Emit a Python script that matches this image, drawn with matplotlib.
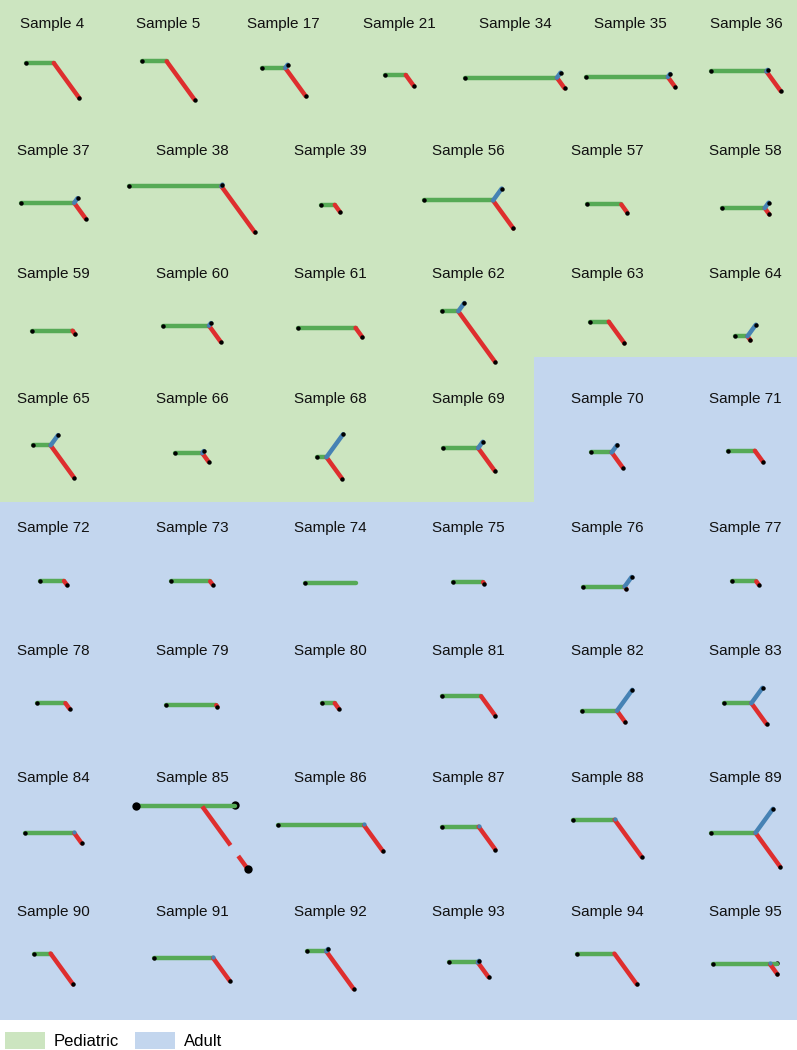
import numpy as np
import matplotlib
matplotlib.use("Agg")
import matplotlib.pyplot as plt
from matplotlib.patches import Rectangle, Patch

plt.rcParams['font.family'] = ['Liberation Sans', 'DejaVu Sans']

# samples, in reading order (7 in the first row, 6 in the others)
samples = [4, 5, 17, 21, 34, 35, 36,
           37, 38, 39, 56, 57, 58,
           59, 60, 61, 62, 63, 64,
           65, 66, 68, 69, 70, 71,
           72, 73, 74, 75, 76, 77,
           78, 79, 80, 81, 82, 83,
           84, 85, 86, 87, 88, 89,
           90, 91, 92, 93, 94, 95]
row_sizes = [7, 6, 6, 6, 6, 6, 6, 6]
first_adult = 70

# branch lengths (trunk = green, clone A = red, clone B = blue)
green = [28, 25, 23.7, 21, 91.7, 82, 55,
         53, 92.4, 14.3, 69, 34.3, 43,
         40.7, 46, 57.3, 16, 19, 12.3,
         17.7, 27, 9, 35.6, 20.3, 27,
         24, 39, 51, 30, 42, 24,
         28, 50, 13, 39, 35, 27,
         49, 66.3, 86.3, 36.7, 42, 44.7,
         16.7, 59, 19.4, 29, 37, 56.7]
red = [43.3, 47.3, 35, 13.6, 13.1, 12.4, 24.3,
       19.8, 57.2, 9, 34.6, 9.9, 7.8,
       4.5, 20.1, 11.5, 62.7, 26.8, 5,
       40, 10.8, 26.5, 28.4, 18.9, 14,
       5, 4, 0, 2, 3, 4,
       7, 2, 7, 24, 14, 26,
       12.7, 77.5, 31.8, 28.4, 45.7, 42,
       38.3, 28.4, 46.6, 18.2, 38, 12.4]
blue = [0, 0, 4, 0, 6.2, 3.7, 2,
        5.8, 2, 0, 14.8, 0, 6.7,
        0, 3.3, 0, 10.3, 0, 14.3,
        12.7, 2.5, 28.4, 7.8, 9.1, 0,
        0, 0, 0, 0, 12, 0,
        0, 0, 0, 0, 26, 19,
        1, 0, 1, 1, 1, 29.7,
        0, 1, 3, 2, 0, 1]
# trunk drawn past the branch point in two samples
overshoot = {85: 32.7, 95: 7.3}
red_gap = {85: (0.62, 0.79)}

# layout (pixels)
W, H = 797, 1050
col_x7 = 52.5 + 115.6 * np.arange(7)
col_x6 = 53.5 + 138.4 * np.arange(6)
col_edges6 = [0, 123, 261, 400, 534, 676, W]
col_edges7 = np.concatenate([[0], (col_x7[:-1] + col_x7[1:]) / 2, [W]])
row_edges = [0, 130, 255, 357, 502, 630, 757, 890, 1020]
title_base = [27.7, 155, 278.3, 403.3, 532, 655, 781.7, 916]
tree_y = [80.5, 208.5, 332.5, 456.4, 583, 706, 837.8, 969]

c_ped = '#cce5c0'
c_adult = '#c3d6ee'
c_green = '#56aa56'
c_red = '#de2e2e'
c_blue = '#4682b4'
ang = np.deg2rad(54)
ca, sa = np.cos(ang), np.sin(ang)

fig = plt.figure(figsize=(W / 100, H / 100), dpi=100)
ax = fig.add_axes([0, 0, 1, 1])
ax.set_xlim(0, W)
ax.set_ylim(H, 0)
ax.axis('off')

k = 0
for r, n in enumerate(row_sizes):
    xs = col_x7 if n == 7 else col_x6
    edges = col_edges7 if n == 7 else col_edges6
    for c in range(n):
        s = samples[k]
        G, R, B = green[k], red[k], blue[k]
        k += 1
        bg = c_adult if s >= first_adult else c_ped
        ax.add_patch(Rectangle((edges[c], row_edges[r]), edges[c + 1] - edges[c],
                               row_edges[r + 1] - row_edges[r], facecolor=bg,
                               edgecolor='none', antialiased=False, zorder=0))
        ax.text(xs[c], title_base[r], f"Sample {s}", ha='center', va='baseline',
                fontsize=11, color='#111111')

        ov = overshoot.get(s, 0)
        xmax = max(G + ov, G + R * ca, G + B * ca)
        x0 = xs[c] - xmax / 2
        yj = tree_y[r] - (R * sa - B * sa) / 2
        xj = x0 + G
        ms = 6 if s == 85 else 3.2

        ax.plot([x0, xj + ov], [yj, yj], color=c_green, lw=3.2,
                solid_capstyle='round', zorder=2)
        if R > 0:
            if s in red_gap:
                a, b = red_gap[s]
                for t0, t1 in [(0, a), (b, 1)]:
                    ax.plot([xj + t0 * R * ca, xj + t1 * R * ca],
                            [yj + t0 * R * sa, yj + t1 * R * sa],
                            color=c_red, lw=3.2, solid_capstyle='butt', zorder=3)
            else:
                ax.plot([xj, xj + R * ca], [yj, yj + R * sa], color=c_red, lw=3.2,
                        solid_capstyle='round', zorder=3)
            ax.plot(xj + R * ca, yj + R * sa, 'o', color='black', ms=ms, mew=0, zorder=6)
        if B > 1.5:
            ax.plot([xj, xj + B * ca], [yj, yj - B * sa], color=c_blue, lw=3.2,
                    solid_capstyle='round', zorder=4)
            ax.plot(xj + B * ca, yj - B * sa, 'o', color='black', ms=ms, mew=0, zorder=6)
        elif B > 0:
            ax.plot(xj, yj - 1, 'o', color=c_blue, ms=3, mew=0, zorder=4)
        if ov > 0:
            ax.plot(xj + ov, yj - 1, 'o', color='black', ms=ms, mew=0, zorder=1.5)
        ax.plot(x0, yj, 'o', color='black', ms=ms, mew=0, zorder=6)

handles = [Patch(facecolor=c_ped, edgecolor='none', label='Pediatric'),
           Patch(facecolor=c_adult, edgecolor='none', label='Adult')]
fig.legend(handles=handles, loc='lower left', bbox_to_anchor=(0.006, 0.001),
           ncol=2, frameon=False, fontsize=12, handlelength=2.4, handleheight=1.2,
           handletextpad=0.55, columnspacing=0.95, borderpad=0, borderaxespad=0)

fig.savefig('out.png', dpi=100)
